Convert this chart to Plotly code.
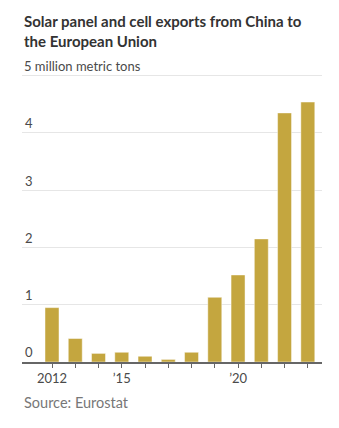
import plotly.graph_objects as go

years = list(range(2012, 2024))
values = [0.95, 0.41, 0.15, 0.17, 0.10, 0.045, 0.17, 1.13, 1.52, 2.15, 4.35, 4.54]
x_tickvals = years
x_ticktext = ["2012", "", "", "\u201915", "", "", "", "", "\u201920", "", "", ""]
y_tickvals = [0, 1, 2, 3, 4, 5]
y_ticktext = ["0", "1", "2", "3", "4", " "]
y_top = 5
y_top_label = "5 million metric tons"

FONT = "Lato"

fig = go.Figure(go.Bar(
    x=years, y=values, width=0.6,
    marker=dict(color="#c4a63f", line=dict(color="rgba(255,255,255,0.45)", width=1)),
    hoverinfo="skip",
))

fig.update_layout(
    width=339, height=428,
    margin=dict(l=22, r=17, t=74, b=66),
    paper_bgcolor="white", plot_bgcolor="white",
    showlegend=False,
    font=dict(family=FONT, color="#555555", size=13),
    xaxis=dict(
        range=[2010.71, 2023.61],
        tickvals=x_tickvals, ticktext=x_ticktext,
        ticks="outside", ticklen=4, tickcolor="#666666", tickwidth=1,
        showline=True, linecolor="#666666", linewidth=1.5,
        showgrid=False, zeroline=False,
        tickfont=dict(family=FONT, size=13, color="#4a4a4a"),
        fixedrange=True,
    ),
    yaxis=dict(
        range=[0, 5.03],
        tickvals=y_tickvals, ticktext=y_ticktext,
        ticklabelposition="inside top",
        ticks="", showline=False,
        showgrid=True, gridcolor="#e6e6e6", gridwidth=1,
        zeroline=False,
        tickfont=dict(family=FONT, size=13, color="#4a4a4a"),
        fixedrange=True,
    ),
    annotations=[
        dict(text="<b>Solar panel and cell exports from China to<br>the European Union</b>",
             xref="paper", yref="paper", x=0, y=1, xanchor="left", yanchor="bottom",
             yshift=22, align="left", showarrow=False,
             font=dict(family=FONT, size=15, color="#333333")),
        dict(text=y_top_label,
             xref="paper", yref="y", x=0, y=y_top, xanchor="left", yanchor="bottom",
             yshift=0, align="left", showarrow=False,
             font=dict(family=FONT, size=13, color="#4a4a4a")),
        dict(text="Source: Eurostat",
             xref="paper", yref="paper", x=0, y=0, xanchor="left", yanchor="top",
             yshift=-30, align="left", showarrow=False,
             font=dict(family=FONT, size=14.5, color="#777777")),
    ],
)

fig.write_html("out.html")
